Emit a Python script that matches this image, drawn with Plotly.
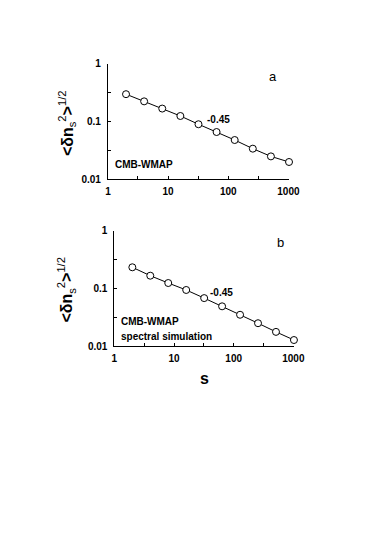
import plotly.graph_objects as go

# scale s (powers of two) and rms fluctuation, panel a (data) and panel b (simulation)
s_vals = [2, 4, 8, 16, 32, 64, 128, 256, 512, 1024]
dn_wmap = [0.298, 0.224, 0.168, 0.125, 0.090, 0.066, 0.048, 0.034, 0.025, 0.020]
dn_sim = [0.232, 0.166, 0.124, 0.094, 0.068, 0.049, 0.035, 0.025, 0.0177, 0.0128]

x_tickvals = [1, 10, 100, 1000]
x_ticktext = ['1', '10', '100', '1000']
x_minor = [3.162, 31.62, 316.2]
y_tickvals = [0.01, 0.1, 1]
y_ticktext = ['0.01', '0.1', '1']
y_minor = [0.03162, 0.3162]

W, H = 374, 539
FONT = 'Liberation Sans, Arial, Helvetica, sans-serif'


def px(x):
    return x / W


def py(y):
    return 1 - y / H


fig = go.Figure()

panels = [
    # data, xaxis id, yaxis id, x extent in px, y extent in px
    (dn_wmap, 'x', 'y', (109, 297.2), (59, 177)),
    (dn_sim, 'x2', 'y2', (115.7, 302.3), (229.3, 347.3)),
]

for vals, xa, ya, (x0, x1), (y0, y1) in panels:
    fig.add_trace(go.Scatter(x=s_vals, y=vals, xaxis=xa, yaxis=ya, mode='lines+markers',
                             line=dict(color='black', width=1),
                             marker=dict(symbol='circle', size=7, color='white',
                                         line=dict(color='black', width=1)),
                             cliponaxis=False, showlegend=False))
    ax = dict(type='log', showgrid=False, zeroline=False, showline=True, linecolor='black',
              linewidth=1, ticks='inside', ticklen=3, tickcolor='black', tickwidth=1,
              tickfont=dict(family=FONT, size=10, color='black', weight='bold'))
    key_x = 'xaxis' if xa == 'x' else 'xaxis2'
    key_y = 'yaxis' if ya == 'y' else 'yaxis2'
    fig.update_layout(**{
        key_x: dict(ax, range=[0, 3.011], domain=[px(x0), px(x1)], anchor=ya,
                    tickvals=x_tickvals, ticktext=x_ticktext, ticklabelstandoff=3,
                    minor=dict(tickmode='array', tickvals=x_minor, ticks='inside',
                               ticklen=3, tickcolor='black', showgrid=False)),
        key_y: dict(ax, range=[-2, 0], domain=[py(y1), py(y0)], anchor=xa,
                    tickvals=y_tickvals, ticktext=y_ticktext, ticklabelstandoff=4,
                    minor=dict(tickmode='array', tickvals=y_minor, ticks='inside',
                               ticklen=3, tickcolor='black', showgrid=False)),
    })


def note(text, x, y, size=10, bold=True, angle=0, xanchor='center'):
    fig.add_annotation(text=('<b>%s</b>' % text) if bold else text, x=px(x), y=py(y),
                       xref='paper', yref='paper', showarrow=False, textangle=angle,
                       xanchor=xanchor, yanchor='middle',
                       font=dict(family=FONT, size=size, color='black'))


ytitle = '<b>&lt;δn</b><sub>s</sub><sup>2</sup><b>&gt;</b><sup>1/2</sup>'
note('a', 281, 72, size=13, bold=False)
note('-0.45', 224, 116)
note('CMB-WMAP', 114, 162, xanchor='left')
note(ytitle, 66, 120, size=16, bold=False, angle=-90)

note('b', 288, 241, size=13, bold=False)
note('-0.45', 227, 292)
note('CMB-WMAP', 121, 322, xanchor='left')
note('spectral simulation', 121, 337, xanchor='left')
note(ytitle, 66, 290, size=16, bold=False, angle=-90)
note('s', 209, 380, size=16)

fig.update_layout(width=W, height=H, margin=dict(l=0, r=0, t=0, b=0),
                  paper_bgcolor='white', plot_bgcolor='white',
                  font=dict(family=FONT, color='black'))

# drop the browser's default body margin so the figure sits at the window origin
fig.write_html("out.html", config={'displayModeBar': False},
               post_script="document.body.style.margin='0';")
